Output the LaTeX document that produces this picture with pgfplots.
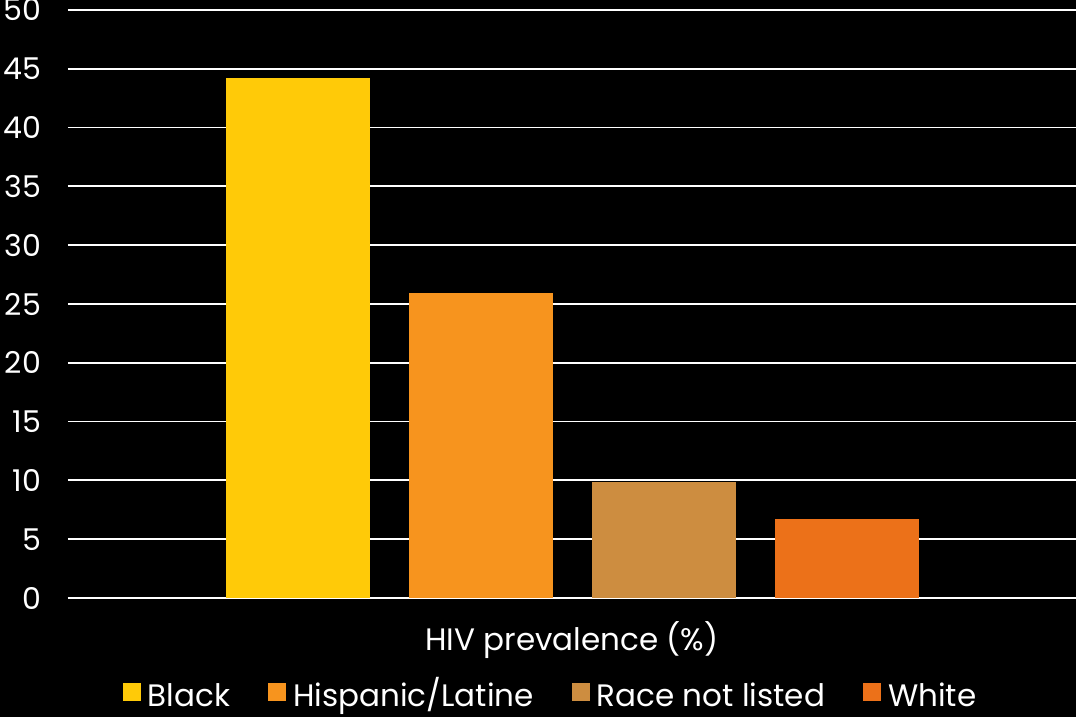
\documentclass[border=0pt]{standalone}
\usepackage{fontspec}
\setmainfont{Poppins}
\usepackage{pgfplots}
\pgfplotsset{compat=1.18}
\definecolor{cBlack}{HTML}{FFCA08}
\definecolor{cHisp}{HTML}{F7941E}
\definecolor{cRace}{HTML}{CD8D40}
\definecolor{cWhite}{HTML}{EC7119}
\begin{document}
\begin{tikzpicture}
\fill[black] (0pt,0pt) rectangle (538pt,358.5pt);
\useasboundingbox (0pt,0pt) rectangle (538pt,358.5pt);
\begin{axis}[
  at={(34pt,59.5pt)}, anchor=south west,
  scale only axis, width=504pt, height=294pt,
  ymin=0, ymax=50, ytick={0,5,...,50},
  xmin=-0.257, xmax=5.251, xtick=\empty,
  axis x line*=bottom, axis y line*=left,
  x axis line style={white, line width=1pt, -},
  y axis line style={draw=none},
  major tick length=0pt,
  ymajorgrids, grid style={white, line width=0.9pt},
  /pgf/number format/assume math mode=true,
  tick label style={font=\fontsize{15}{15}\selectfont, text=white},
  yticklabel style={xshift=-10pt},
  ybar, bar width=0.787, bar shift=0pt,
  xlabel={HIV prevalence (\%)},
  xlabel style={at={(axis description cs:0.5,-0.0714)}, anchor=center, text=white, font=\fontsize{15.5}{15.5}\selectfont},
  legend columns=4,
  legend style={at={(0.4797,-0.1725)}, anchor=center, draw=none, fill=black, text=white,
    font=\fontsize{15.5}{15.5}\selectfont,
    nodes={text height=11pt, text depth=3.5pt},
    /tikz/every odd column/.append style={column sep=1.5pt},
    /tikz/every even column/.append style={column sep=17pt}},
  legend image code/.code={\fill[#1] (0pt,-1pt) rectangle (9pt,8pt);},
]
\addplot[fill=cBlack, draw=none] coordinates {(1,44.2)};
\addplot[fill=cHisp, draw=none] coordinates {(2,25.9)};
\addplot[fill=cRace, draw=none] coordinates {(3,9.9)};
\addplot[fill=cWhite, draw=none] coordinates {(4,6.7)};
\legend{Black, Hispanic/Latine, Race not listed, White}
\end{axis}
\end{tikzpicture}
\end{document}
